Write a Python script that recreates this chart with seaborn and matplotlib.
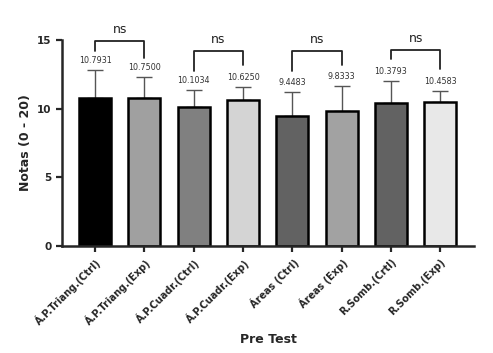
import matplotlib
matplotlib.use("Agg")
import matplotlib.pyplot as plt
import seaborn as sns
import pandas as pd

categories = ["Á.P.Triang.(Ctrl)", "Á.P.Triang.(Exp)", "Á.P.Cuadr.(Ctrl)", "Á.P.Cuadr.(Exp)",
              "Áreas (Ctrl)", "Áreas (Exp)", "R.Somb.(Crtl)", "R.Somb.(Exp)"]
means = [10.7931, 10.7500, 10.1034, 10.6250, 9.4483, 9.8333, 10.3793, 10.4583]
sds = [2.03, 1.55, 1.26, 0.97, 1.77, 1.82, 1.64, 0.83]
bar_colors = ["#000000", "#a0a0a0", "#808080", "#d4d4d4", "#626262", "#a2a2a2", "#626262", "#e8e8e8"]

# significance brackets: (left bar, right bar, top, left leg end, right leg end)
brackets = [(0, 1, 14.9, 14.2, 13.7), (2, 3, 14.2, 12.7, 13.2),
            (4, 5, 14.2, 12.7, 13.2), (6, 7, 14.3, 13.6, 12.9)]
sig_labels = ["ns", "ns", "ns", "ns"]

df = pd.DataFrame({"grupo": categories, "nota": means})

sns.set_style("ticks")
plt.rcParams['font.family'] = ['DejaVu Sans']
fig = plt.figure(figsize=(4.93, 3.53), dpi=100)
ax = fig.add_axes([0.126, 0.303, 0.835, 0.584])

sns.barplot(data=df, x="grupo", y="nota", hue="grupo", palette=bar_colors, legend=False,
            width=0.65, edgecolor="black", linewidth=1.8, ax=ax, errorbar=None)

# upper-only SD bars
ax.errorbar(range(len(means)), means, yerr=[[0] * len(sds), sds], fmt="none",
            ecolor="#555555", elinewidth=1.0, capsize=6, capthick=1.0, zorder=1)
for b in ax.patches:
    b.set_zorder(2)

for i, (m, s) in enumerate(zip(means, sds)):
    ax.text(i, m + s + 0.35, f"{m:.4f}", ha="center", va="bottom", fontsize=5.8, color="#333333")

for (a, b, top, la, lb), lab in zip(brackets, sig_labels):
    ax.plot([a, a, b, b], [la, top, top, lb], color="#222222", lw=1.3, clip_on=False)
    ax.text((a + b) / 2, top + 0.35, lab, ha="center", va="bottom", fontsize=9, color="#222222")

ax.set_ylim(0, 15)
ax.set_yticks([0, 5, 10, 15])
ax.set_xlim(-0.67, 7.68)
ax.set_ylabel("Notas (0 - 20)", fontsize=9, fontweight="bold")
ax.set_xlabel("Pre Test", fontsize=9, fontweight="bold", labelpad=4)
ax.tick_params(axis="both", width=1.6, length=4, labelsize=7.5)
plt.setp(ax.get_yticklabels(), fontweight="bold")
plt.setp(ax.get_xticklabels(), rotation=45, ha="right", rotation_mode="anchor", fontweight="bold", fontsize=7)
for sp in ["left", "bottom"]:
    ax.spines[sp].set_linewidth(1.8)
sns.despine(ax=ax)

fig.savefig("out.png", dpi=100)
